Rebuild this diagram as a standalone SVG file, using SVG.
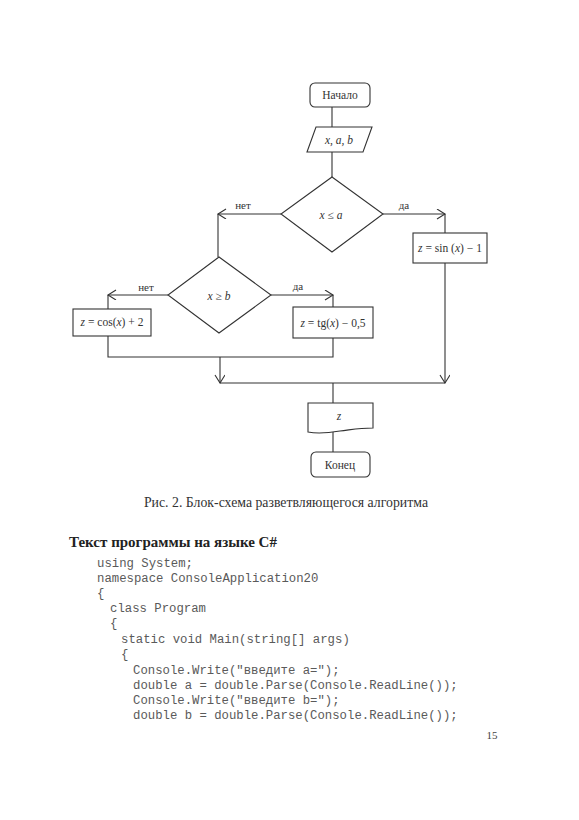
<svg xmlns="http://www.w3.org/2000/svg" width="579" height="820" viewBox="0 0 579 820">
<style>
.s{fill:#fff;stroke:#333;stroke-width:1.1}
.c{fill:none;stroke:#333;stroke-width:1.1}
.t{font-family:"Liberation Serif","Times New Roman",serif;font-size:11.5px;fill:#333;text-anchor:middle}
.i{font-style:italic}
.l{font-family:"Liberation Serif","Times New Roman",serif;font-size:11px;fill:#333}
.code{font-family:"Liberation Mono","Courier New",monospace;font-size:12.3px;fill:#5a5a5a;white-space:pre}
</style>
<defs>
<marker id="a" markerWidth="12" markerHeight="12" refX="9" refY="5" orient="auto" markerUnits="userSpaceOnUse">
<polyline points="1,0 9,5 1,10" fill="none" stroke="#333" stroke-width="1.1"/>
</marker>
</defs>
<rect width="579" height="820" fill="#fff"/>
<g id="connectors">
<path class="c" d="M332,107 V127 M332,152 V177"/>
<path class="c" d="M281,214 H218" marker-end="url(#a)"/>
<path class="c" d="M218,214 V257"/>
<path class="c" d="M383,214 H445" marker-end="url(#a)"/>
<path class="c" d="M445,214 V233"/>
<path class="c" d="M445,263 V383" marker-end="url(#a)"/>
<path class="c" d="M168,295 H108" marker-end="url(#a)"/>
<path class="c" d="M108,295 V309"/>
<path class="c" d="M271,295 H333" marker-end="url(#a)"/>
<path class="c" d="M333,295 V307"/>
<path class="c" d="M108,336 V357 H333 V338"/>
<path class="c" d="M220,357 V383" marker-end="url(#a)"/>
<path class="c" d="M220,383 H445"/>
<path class="c" d="M333,383 V403 M333,432 V452"/>
<text class="l" x="243" y="209" text-anchor="middle">нет</text>
<text class="l" x="404" y="209" text-anchor="middle">да</text>
<text class="l" x="146" y="291" text-anchor="middle">нет</text>
<text class="l" x="298" y="290" text-anchor="middle">да</text>
</g>
<g id="start">
<rect class="s" x="310" y="83" width="60" height="24" rx="5"/>
<text class="t" x="340" y="99">Начало</text>
</g>
<g id="input">
<polygon class="s" points="316,127 372,127 363,152 307,152"/>
<text class="t i" x="339" y="144">x, a, b</text>
</g>
<g id="cond1">
<polygon class="s" points="332,177 383,214 332,252 281,214"/>
<text class="t" x="331" y="219"><tspan class="i">x</tspan> ≤ <tspan class="i">a</tspan></text>
</g>
<g id="sin">
<rect class="s" x="413" y="233" width="74" height="30"/>
<text class="t" x="450" y="252"><tspan class="i">z</tspan> = sin (<tspan class="i">x</tspan>) − 1</text>
</g>
<g id="cond2">
<polygon class="s" points="219,257 271,295 219,333 168,295"/>
<text class="t" x="219" y="300"><tspan class="i">x</tspan> ≥ <tspan class="i">b</tspan></text>
</g>
<g id="cos">
<rect class="s" x="73" y="309" width="78" height="27"/>
<text class="t" x="112" y="326"><tspan class="i">z</tspan> = cos(<tspan class="i">x</tspan>) + 2</text>
</g>
<g id="tg">
<rect class="s" x="293" y="307" width="80" height="31"/>
<text class="t" x="333" y="327"><tspan class="i">z</tspan> = tg(<tspan class="i">x</tspan>) − 0,5</text>
</g>
<g id="output">
<path class="s" d="M308,403 H373 V428 C358,428 350,430 340,431 C328,433 318,434 308,432 Z"/>
<text class="t i" x="339" y="420">z</text>
</g>
<g id="end">
<rect class="s" x="311" y="452" width="59" height="25" rx="5"/>
<text class="t" x="340" y="469">Конец</text>
</g>
<text x="286" y="507" font-family="Liberation Serif, serif" font-size="13.8" fill="#333" text-anchor="middle">Рис. 2. Блок-схема разветвляющегося алгоритма</text>
<text x="69" y="547" font-family="Liberation Serif, serif" font-size="15" font-weight="bold" fill="#222">Текст программы на языке C#</text>
<g class="code">
<text x="97" y="567">using System;</text>
<text x="97" y="582">namespace ConsoleApplication20</text>
<text x="97" y="597">{</text>
<text x="110" y="612">class Program</text>
<text x="110" y="627">{</text>
<text x="121" y="643">static void Main(string[] args)</text>
<text x="121" y="658">{</text>
<text x="133" y="674">Console.Write("введите a=");</text>
<text x="133" y="689">double a = double.Parse(Console.ReadLine());</text>
<text x="133" y="704">Console.Write("введите b=");</text>
<text x="133" y="719">double b = double.Parse(Console.ReadLine());</text>
</g>
<text x="492" y="739" font-family="Liberation Serif, serif" font-size="11" fill="#444" text-anchor="middle">15</text>
</svg>
